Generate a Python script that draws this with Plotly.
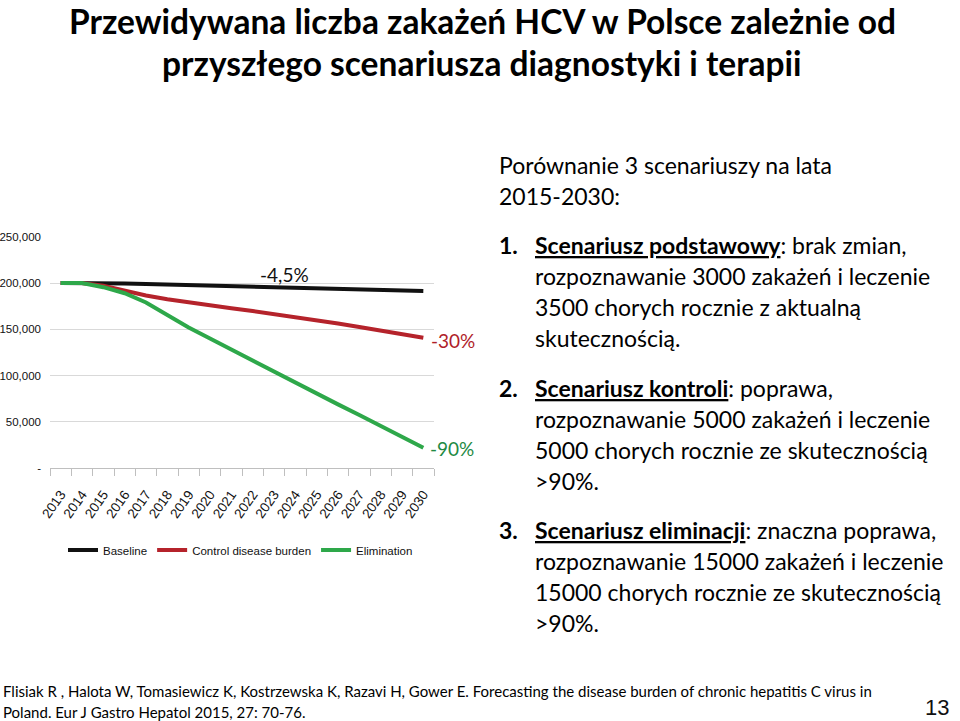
import plotly.graph_objects as go

# ---------------- data ----------------
years = list(range(2013, 2031))
year_labels = [str(y) for y in years]
baseline = [200000, 200000, 200000, 199400, 198900, 198300, 197700, 197100, 196600,
            196000, 195400, 194900, 194300, 193700, 193100, 192600, 192000, 191400]
control = [200000, 200000, 197000, 191500, 186500, 182500, 179000, 175800, 172800,
           169800, 166600, 163300, 159900, 156300, 152600, 148800, 145000, 141000]
elimination = [200000, 200000, 195500, 189000, 179000, 165500, 152000, 140000, 128000,
               116000, 104000, 92000, 80500, 69000, 57500, 46000, 34000, 22200]
series_names = ["Baseline", "Control disease burden", "Elimination"]
series_colors = ["#111111", "#B5232B", "#2EA84A"]
y_tickvals = [0, 50000, 100000, 150000, 200000, 250000]
y_ticktext = ["-", "50,000", "100,000", "150,000", "200,000", "250,000"]
change_labels = ["-4,5%", "-30%", "-90%"]
label_colors = ["#111111", "#B01E2A", "#1F8A44"]

W, H = 960, 721
def py(y):
    return 1 - y / H
def px(x):
    return x / W

NARROW = "Liberation Sans, Arial, sans-serif"
CAL = "Lato, Carlito, Calibri, sans-serif"

fig = go.Figure()
for name, vals, col in zip(series_names, [baseline, control, elimination], series_colors):
    fig.add_trace(go.Scatter(x=years, y=vals, mode="lines", name=name,
                             line=dict(color=col, width=4), hoverinfo="skip"))

annotations = []
# change labels
annotations.append(dict(x=2023.5, y=209000, xref="x", yref="y", text=change_labels[0],
                        showarrow=False, font=dict(family=CAL, size=19, color=label_colors[0]),
                        xanchor="center", yanchor="middle"))
annotations.append(dict(x=years[-1], y=control[-1], xref="x", yref="y", text=change_labels[1],
                        showarrow=False, font=dict(family=CAL, size=19, color=label_colors[1]),
                        xanchor="left", yanchor="middle", xshift=6, yshift=-3))
annotations.append(dict(x=years[-1], y=elimination[-1], xref="x", yref="y", text=change_labels[2],
                        showarrow=False, font=dict(family=CAL, size=19, color=label_colors[2]),
                        xanchor="left", yanchor="middle", xshift=5, yshift=-1))

# title
title_lines = ["Przewidywana liczba zakażeń HCV w Polsce zależnie od",
               "przyszłego scenariusza diagnostyki i terapii"]
for t, y in zip(title_lines, [21, 63]):
    annotations.append(dict(x=px(482), y=py(y), xref="paper", yref="paper", text="<b>%s</b>" % t,
                            showarrow=False, font=dict(family=CAL, size=33.5, color="#000000"),
                            xanchor="center", yanchor="middle"))

# right text
right_lines = [
    (497, 165, "Porównanie 3 scenariuszy na lata"),
    (497, 196, "2015-2030:"),
    (533, 245, "<b><u>Scenariusz podstawowy</u></b>: brak zmian,"),
    (533, 276, "rozpoznawanie 3000 zakażeń i leczenie"),
    (533, 307, "3500 chorych rocznie z aktualną"),
    (533, 338, "skutecznością."),
    (533, 388, "<b><u>Scenariusz kontroli</u></b>: poprawa,"),
    (533, 419, "rozpoznawanie 5000 zakażeń i leczenie"),
    (533, 450, "5000 chorych rocznie ze skutecznością"),
    (533, 481, ">90%."),
    (533, 530, "<b><u>Scenariusz eliminacji</u></b>: znaczna poprawa,"),
    (533, 561, "rozpoznawanie 15000 zakażeń i leczenie"),
    (533, 592, "15000 chorych rocznie ze skutecznością"),
    (533, 623, ">90%."),
]
for x, y, t in right_lines:
    annotations.append(dict(x=px(x), y=py(y), xref="paper", yref="paper", text=t,
                            showarrow=False, font=dict(family=CAL, size=23, color="#000000"),
                            xanchor="left", yanchor="middle"))
for y, n in zip([245, 388, 530], ["1.", "2.", "3."]):
    annotations.append(dict(x=px(497), y=py(y), xref="paper", yref="paper", text="<b>%s</b>" % n,
                            showarrow=False, font=dict(family=CAL, size=23, color="#000000"),
                            xanchor="left", yanchor="middle"))

# footer
footer = ["Flisiak R , Halota W, Tomasiewicz K, Kostrzewska K, Razavi H, Gower E. Forecasting the disease burden of chronic hepatitis C virus in",
          "Poland. Eur J Gastro Hepatol 2015, 27: 70-76."]
for t, y in zip(footer, [691, 712]):
    annotations.append(dict(x=px(1), y=py(y), xref="paper", yref="paper", text=t,
                            showarrow=False, font=dict(family=CAL, size=15, color="#000000"),
                            xanchor="left", yanchor="middle"))
annotations.append(dict(x=px(937), y=py(707), xref="paper", yref="paper", text="13",
                        showarrow=False, font=dict(family="Liberation Sans, Arial, sans-serif", size=22, color="#111111"),
                        xanchor="center", yanchor="middle"))

fig.update_layout(
    width=W, height=H,
    margin=dict(l=0, r=0, t=0, b=0, autoexpand=False),
    paper_bgcolor="white", plot_bgcolor="white",
    showlegend=True,
    legend=dict(orientation="h", x=px(63), y=py(550), xanchor="left", yanchor="middle",
                font=dict(family=NARROW, size=11.5, color="#111111"),
                bgcolor="rgba(0,0,0,0)", itemwidth=30, tracegroupgap=0),
    annotations=annotations,
    xaxis=dict(domain=[px(50), px(434)], range=[2012.5, 2030.5], automargin=False,
               tickmode="array", tickvals=years, ticktext=year_labels, tickangle=-55,
               tickfont=dict(family=NARROW, size=13.5, color="#111111"),
               showgrid=False, zeroline=False, showline=True, linecolor="#bfbfbf", linewidth=1,
               ticks="", ticklabelstandoff=12, fixedrange=True,
               minor=dict(tickmode="array", tickvals=[2012.5 + i for i in range(19)],
                          ticks="outside", ticklen=7, tickcolor="#bfbfbf", tickwidth=1, showgrid=False)),
    yaxis=dict(domain=[py(468.3), py(236.7)], range=[0, 250000], automargin=False,
               tickmode="array", tickvals=y_tickvals, ticktext=y_ticktext,
               tickfont=dict(family=NARROW, size=11.5, color="#111111"),
               showgrid=True, gridcolor="#d9d9d9", gridwidth=1, zeroline=False,
               showline=False, ticks="", ticklabelstandoff=8, fixedrange=True),
)

fig.write_html("out.html")
